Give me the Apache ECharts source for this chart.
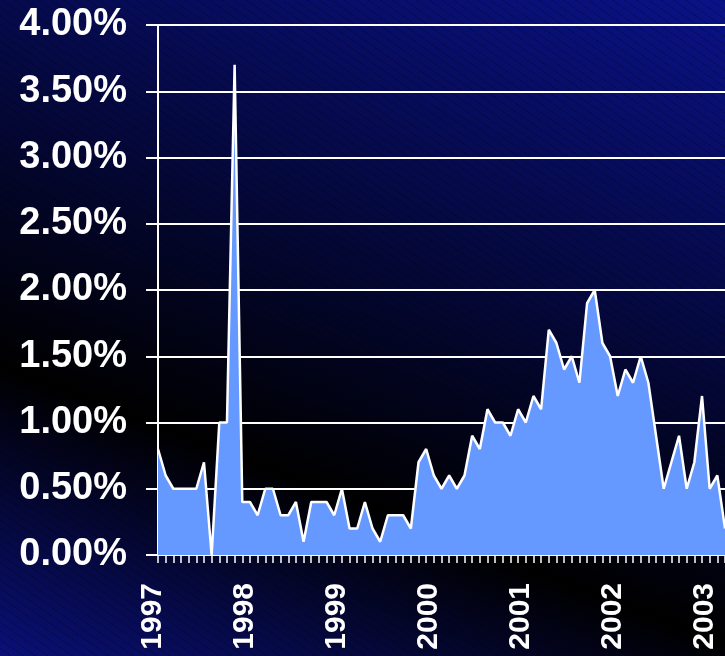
<!DOCTYPE html>
<html>
<head>
<meta charset="utf-8">
<script src="https://cdn.jsdelivr.net/npm/echarts@6/dist/echarts.min.js"></script>
<style>
  html, body { margin: 0; padding: 0; width: 725px; height: 656px; overflow: hidden; }
  body {
    background:
      repeating-linear-gradient(35deg, rgba(0,0,0,0) 0px, rgba(0,0,0,0) 6px, rgba(0,0,0,0.22) 6px, rgba(0,0,0,0.22) 7px),
      linear-gradient(201deg, #0a1288 0%, #000000 69%, #0a1078 100%);
  }
  #chart { width: 725px; height: 656px; }
</style>
</head>
<body>
<div id="chart"></div>
<script>
// Years shown on the x axis (one category per month, Jan 1997 onward)
var years = ['1997', '1998', '1999', '2000', '2001', '2002', '2003'];
var monthsShown = 75; // Jan 1997 .. Mar 2003

// Monthly rate (%)
var rates = [
  0.8, 0.6, 0.5, 0.5, 0.5, 0.5, 0.7, 0.0, 1.0, 1.0, 3.7, 0.4,   // 1997
  0.4, 0.3, 0.5, 0.5, 0.3, 0.3, 0.4, 0.1, 0.4, 0.4, 0.4, 0.3,   // 1998
  0.5, 0.2, 0.2, 0.4, 0.2, 0.1, 0.3, 0.3, 0.3, 0.2, 0.7, 0.8,   // 1999
  0.6, 0.5, 0.6, 0.5, 0.6, 0.9, 0.8, 1.1, 1.0, 1.0, 0.9, 1.1,   // 2000
  1.0, 1.2, 1.1, 1.7, 1.6, 1.4, 1.5, 1.3, 1.9, 2.0, 1.6, 1.5,   // 2001
  1.2, 1.4, 1.3, 1.5, 1.3, 0.9, 0.5, 0.7, 0.9, 0.5, 0.7, 1.2,   // 2002
  0.5, 0.6, 0.2                                                 // 2003
];

// Category labels: one per month
var categories = [];
for (var i = 0; i < monthsShown; i++) {
  var y = years[Math.floor(i / 12)];
  var m = (i % 12) + 1;
  categories.push(y + '-' + (m < 10 ? '0' + m : m));
}

var chart = echarts.init(document.getElementById('chart'), null, { renderer: 'canvas' });
chart.setOption({
  backgroundColor: 'transparent',
  animation: false,
  grid: { left: 158, right: 0, top: 25, bottom: 101, containLabel: false },
  xAxis: {
    type: 'category',
    boundaryGap: false,
    data: categories,
    axisLine: { show: true, lineStyle: { color: '#ffffff', width: 2 } },
    axisTick: { show: true, interval: 0, length: 8, lineStyle: { color: '#ffffff', width: 1.5 } },
    axisLabel: {
      interval: function (idx) { return idx % 12 === 0; },
      rotate: 90,
      margin: 28,
      verticalAlign: 'bottom',
      lineHeight: 10,
      color: '#ffffff',
      fontSize: 30,
      fontWeight: 'bold',
      fontFamily: 'Liberation Sans, Arial, sans-serif',
      formatter: function (v) { return v.slice(0, 4); }
    },
    splitLine: { show: false }
  },
  yAxis: {
    type: 'value',
    min: 0,
    max: 4,
    interval: 0.5,
    axisLine: { show: true, lineStyle: { color: '#ffffff', width: 2 } },
    axisTick: { show: true, length: 12, lineStyle: { color: '#ffffff', width: 2 } },
    axisLabel: {
      margin: 31,
      color: '#ffffff',
      fontSize: 38,
      fontWeight: 'bold',
      fontFamily: 'Liberation Sans, Arial, sans-serif',
      formatter: function (v) { return v.toFixed(2) + '%'; }
    },
    splitLine: { show: true, lineStyle: { color: '#ffffff', width: 1.8 } }
  },
  series: [{
    type: 'line',
    data: rates,
    symbol: 'none',
    smooth: false,
    lineStyle: { color: '#ffffff', width: 2.5 },
    areaStyle: { color: '#6699ff', opacity: 1 }
  }]
});
</script>
</body>
</html>
